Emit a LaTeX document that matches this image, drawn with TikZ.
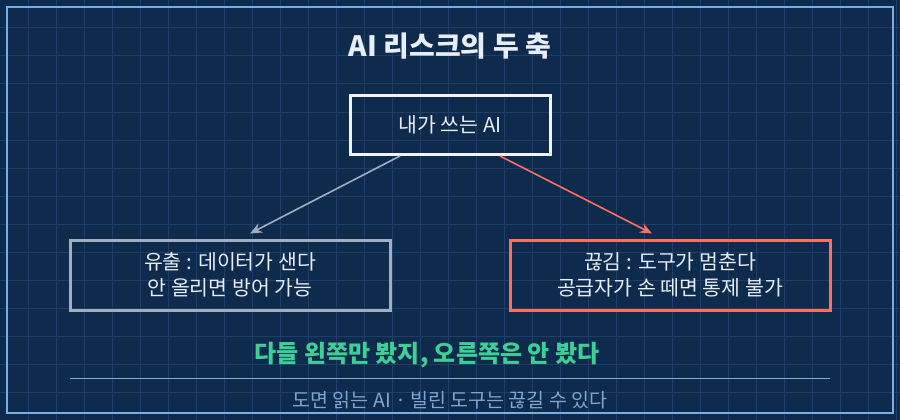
\documentclass[tikz,border=0pt]{standalone}
\usepackage{fontspec}
\setmainfont{Noto Sans CJK KR}
\usetikzlibrary{arrows.meta}
\definecolor{bgblue}{HTML}{0E2A4C}
\definecolor{gridblue}{HTML}{1F3F69}
\definecolor{frameblue}{HTML}{78AEE0}
\definecolor{boxwhite}{HTML}{F0F4F8}
\definecolor{leakgray}{HTML}{A0AEC0}
\definecolor{cutcoral}{HTML}{FF6F5E}
\definecolor{notegreen}{HTML}{3ECF96}
\definecolor{footblue}{HTML}{7FA6D0}
\definecolor{textwhite}{HTML}{E8EEF5}

\begin{document}
\begin{tikzpicture}[x=1pt,y=-1pt,
  kasten/.style={draw,line width=3pt,minimum width=320pt,minimum height=70pt,
    align=center,text=textwhite,font=\fontsize{20.5}{25.5}\selectfont},
  pfeil/.style={line width=1.6pt,-{Stealth[length=12pt,width=10pt,inset=4pt]}}]
\useasboundingbox (0,0) rectangle (900,420);
\fill[bgblue] (0,0) rectangle (900,420);
\foreach \i in {28,56,...,896} \draw[gridblue,line width=1pt] (\i,0) -- (\i,420);
\foreach \j in {28,56,...,420} \draw[gridblue,line width=1pt] (0,\j) -- (900,\j);
\draw[frameblue,line width=2.5pt] (7,7) rectangle (893,413);

\node[text=textwhite,font=\fontsize{28}{32}\selectfont\bfseries] (titel) at (450,46) {AI 리스크의 두 축};
\node[kasten,draw=boxwhite,minimum width=200pt,minimum height=59pt] (ai) at (450,125) {내가 쓰는 AI};
\node[kasten,draw=leakgray] (leck) at (230,275) {유출 : 데이터가 샌다\\안 올리면 방어 가능};
\node[kasten,draw=cutcoral] (bruch) at (670,275) {끊김 : 도구가 멈춘다\\공급자가 손 떼면 통제 불가};

\draw[pfeil,leakgray] ([xshift=-50pt]ai.south) -- ([xshift=20pt,yshift=5pt]leck.north);
\draw[pfeil,cutcoral] ([xshift=50pt]ai.south) -- ([xshift=-18pt,yshift=5pt]bruch.north);

\node[text=notegreen,font=\fontsize{24}{28}\selectfont\bfseries] (fazit) at (427,355) {다들 왼쪽만 봤지, 오른쪽은 안 봤다};
\coordinate (linieL) at (70,378.5);
\coordinate (linieR) at (830,378.5);
\draw[frameblue,line width=1.2pt] (linieL) -- (linieR);
\node[text=footblue,font=\fontsize{19.5}{22}\selectfont] (fuss) at (450,400) {도면 읽는 AI · 빌린 도구는 끊길 수 있다};
\end{tikzpicture}
\end{document}
